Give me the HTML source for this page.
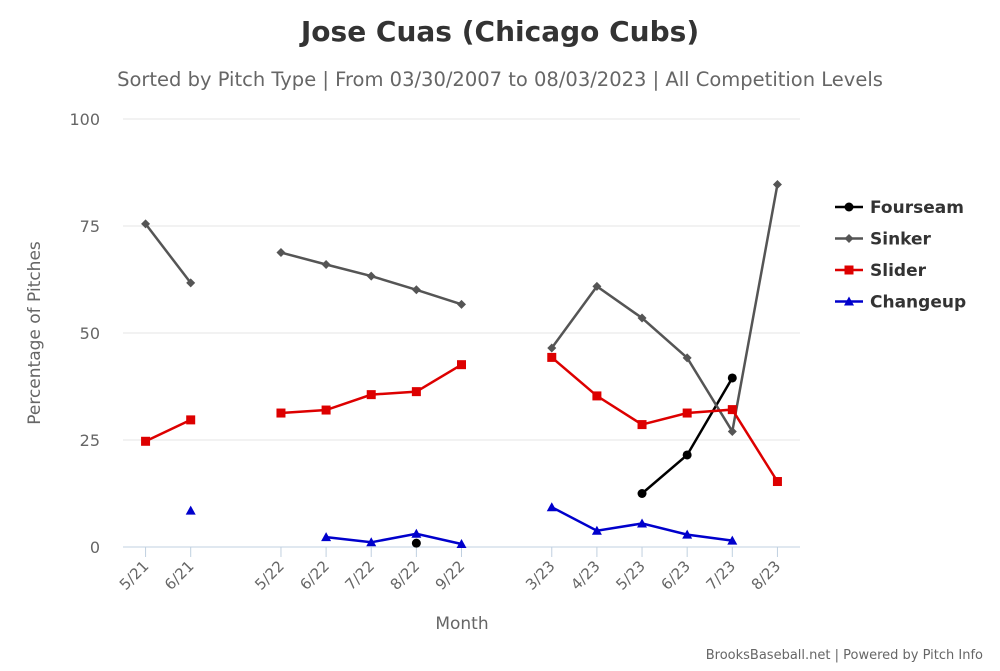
<!DOCTYPE html>
<html><head><meta charset="utf-8"><style>
body{margin:0;background:#fff;font-family:"DejaVu Sans","Liberation Sans",sans-serif}
</style></head><body>
<svg id="chart" width="1000" height="667" xmlns="http://www.w3.org/2000/svg">
<text x="500" y="41" text-anchor="middle" font-size="28" font-weight="bold" fill="#333">Jose Cuas (Chicago Cubs)</text>
<text x="500" y="86" text-anchor="middle" font-size="19.5" fill="#666">Sorted by Pitch Type | From 03/30/2007 to 08/03/2023 | All Competition Levels</text>
<g id="grid"></g><g id="series"></g><g id="legend"></g>
<text x="40" y="333" transform="rotate(-90 40 333)" text-anchor="middle" font-size="17" fill="#666">Percentage of Pitches</text>
<text x="462" y="629" text-anchor="middle" font-size="17" fill="#666">Month</text>
<text x="983" y="659" text-anchor="end" font-size="13" fill="#666">BrooksBaseball.net | Powered by Pitch Info</text>
</svg>
<script>
const categories=["5/21","6/21","","5/22","6/22","7/22","8/22","9/22","","3/23","4/23","5/23","6/23","7/23","8/23"];
const yTicks=[0,25,50,75,100];
const fourseam=[null,null,null,null,null,null,0.9,null,null,null,null,12.5,21.5,39.5,null];
const sinker=[75.5,61.7,null,68.8,66,63.3,60.1,56.7,null,46.5,60.9,53.5,44.2,27,84.7];
const slider=[24.7,29.7,null,31.3,32,35.6,36.3,42.6,null,44.3,35.3,28.6,31.3,32.1,15.3];
const changeup=[null,8.5,null,null,2.3,1.1,3.1,0.7,null,9.3,3.8,5.5,2.9,1.5,null];
const seriesNames=["Fourseam","Sinker","Slider","Changeup"];
const seriesColors=["#000000","#555555","#dd0000","#0000cc"];
const seriesMarkers=["circle","diamond","square","triangle"];
const seriesData=[fourseam,sinker,slider,changeup];
const NS="http://www.w3.org/2000/svg";
const L=123,R=800,T=119,B=547;
const band=(R-L)/categories.length;
const x=i=>L+band*(i+0.5);
const y=v=>B-(v/100)*(B-T);
function mk(tag,attrs,parent){const e=document.createElementNS(NS,tag);for(const k in attrs)e.setAttribute(k,attrs[k]);parent.appendChild(e);return e;}
const grid=document.getElementById('grid');
yTicks.forEach(t=>{
 const ln=mk('line',{x1:L,x2:R,y1:y(t),y2:y(t),stroke:t===0?'#c0d0e0':'#e6e6e6','stroke-width':1},grid);
 
 
 const tx=mk('text',{x:100,y:y(t)+6,'text-anchor':'end','font-size':16,fill:'#666'},grid);
 tx.textContent=t;
 
 
});
categories.forEach((c,i)=>{
 if(!c)return;
 const tk=mk('line',{x1:x(i),x2:x(i),y1:B,y2:B+10,stroke:'#c0d0e0'},grid);
 
 
 const tx=mk('text',{x:x(i)+4,y:B+20,'text-anchor':'end','font-size':15,fill:'#666',transform:`rotate(-45 ${x(i)+4} ${B+20})`},grid);
 tx.textContent=c;
 
 
});
function marker(type,cx,cy,col,parent,s){
 s=s||1;let e;
 if(type==='circle')e=mk('circle',{cx,cy,r:4.5*s,fill:col},parent);
 else if(type==='square')e=mk('rect',{x:cx-4.5*s,y:cy-4.5*s,width:9*s,height:9*s,fill:col},parent);
 else if(type==='diamond')e=mk('path',{d:`M${cx} ${cy-4.5*s}L${cx+4.5*s} ${cy}L${cx} ${cy+4.5*s}L${cx-4.5*s} ${cy}Z`,fill:col},parent);
 else e=mk('path',{d:`M${cx} ${cy-5*s}L${cx+5*s} ${cy+4*s}L${cx-5*s} ${cy+4*s}Z`,fill:col},parent);
 return e;
}
const sg=document.getElementById('series');
seriesData.forEach((d,si)=>{
 const g=mk('g',{},sg);
 
 
 let seg=[];
 const flush=()=>{if(seg.length>1){const p=mk('polyline',{points:seg.join(' '),fill:'none',stroke:seriesColors[si],'stroke-width':2.5},g);}seg=[];};
 d.forEach((v,i)=>{if(v===null){flush();return;}seg.push(x(i)+','+y(v));});
 flush();
 d.forEach((v,i)=>{if(v===null)return;const m=marker(seriesMarkers[si],x(i),y(v),seriesColors[si],g);
  
  });
});
const lg=document.getElementById('legend');
seriesNames.forEach((n,i)=>{
 const yy=207+i*31.5;
 const g=mk('g',{},lg);
 
 
 mk('line',{x1:835,x2:863,y1:yy,y2:yy,stroke:seriesColors[i],'stroke-width':2.5},g);
 marker(seriesMarkers[i],849,yy,seriesColors[i],g);
 const t=mk('text',{x:870,y:yy+6,'font-size':17,'font-weight':'bold',fill:'#333'},g);
 t.textContent=n;
});
</script>
</body></html>
